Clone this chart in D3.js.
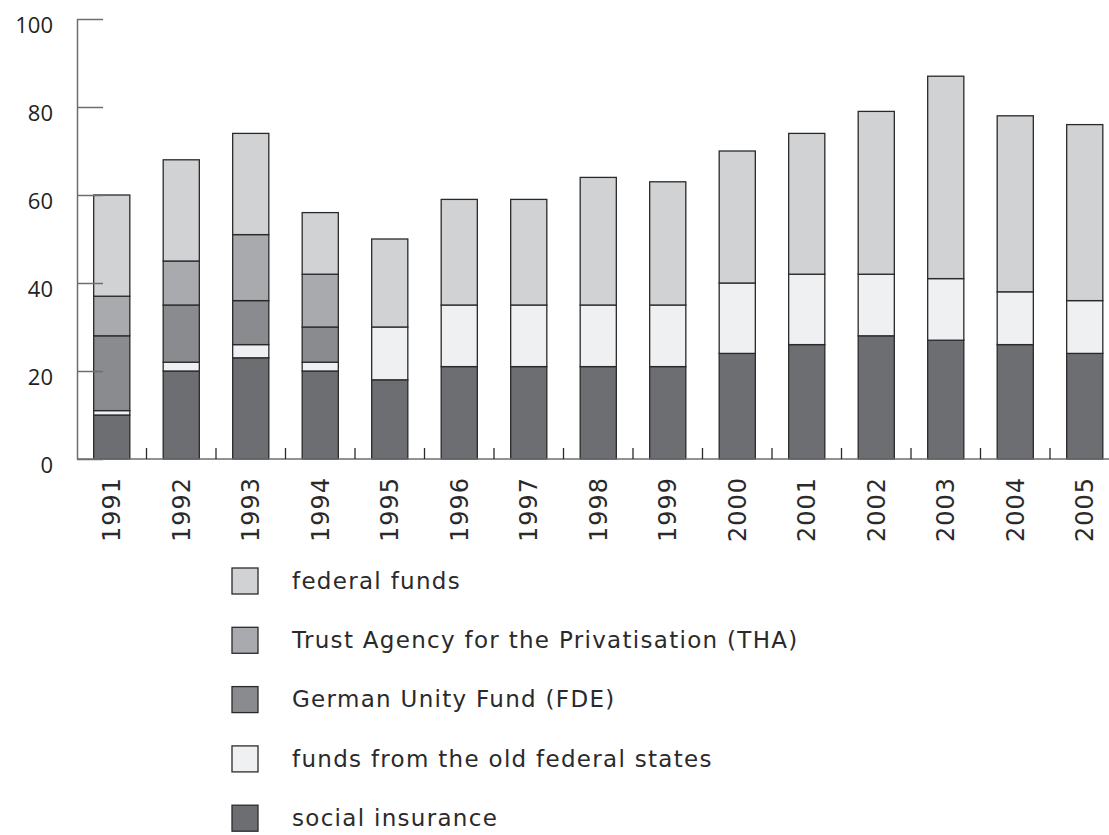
<!DOCTYPE html>
<html lang="en">
<head>
    <meta charset="UTF-8">
    <title>Financing of transfers</title>
    <script src="https://d3js.org/d3.v7.min.js"></script>
    <style>
        body { margin: 0; background: #fff; }
    </style>
</head>
<body>
<script>
// data (bn EUR)
const years = ["1991","1992","1993","1994","1995","1996","1997","1998","1999","2000","2001","2002","2003","2004","2005"];
const socialInsurance = [10, 20, 23, 20, 18, 21, 21, 21, 21, 24, 26, 28, 27, 26, 24];
const oldStates       = [1, 2, 3, 2, 12, 14, 14, 14, 14, 16, 16, 14, 14, 12, 12];
const unityFund       = [17, 13, 10, 8, 0, 0, 0, 0, 0, 0, 0, 0, 0, 0, 0];
const trustAgency     = [9, 10, 15, 12, 0, 0, 0, 0, 0, 0, 0, 0, 0, 0, 0];
const federalFunds    = [23, 23, 23, 14, 20, 24, 24, 29, 28, 30, 32, 37, 46, 40, 40];
const yTicks = [0, 20, 40, 60, 80, 100];

const seriesKeys = ["social", "old", "fde", "tha", "federal"];
const seriesNames = {
    federal: "federal funds",
    tha: "Trust Agency for the Privatisation (THA)",
    fde: "German Unity Fund (FDE)",
    old: "funds from the old federal states",
    social: "social insurance"
};
const colors = {
    federal: "#d1d2d4",
    tha: "#a9aaad",
    fde: "#8a8b8f",
    old: "#eff0f2",
    social: "#6d6e72"
};

const rows = years.map((y, i) => ({
    year: y,
    social: socialInsurance[i],
    old: oldStates[i],
    fde: unityFund[i],
    tha: trustAgency[i],
    federal: federalFunds[i]
}));

const width = 1109, height = 835;
const svg = d3.select("body").append("svg")
    .attr("width", width)
    .attr("height", height);

const x = d3.scaleBand()
    .domain(years)
    .range([77, 1119.5])
    .paddingInner(0.48)
    .paddingOuter(0.24);

const y = d3.scaleLinear()
    .domain([0, 100])
    .range([459, 19]);

const layers = d3.stack().keys(seriesKeys)(rows);

// bars
svg.append("g")
    .selectAll("g")
    .data(layers)
    .join("g")
    .attr("fill", d => colors[d.key])
    .selectAll("rect")
    .data(d => d.filter(s => s[1] - s[0] > 0))
    .join("rect")
    .attr("x", d => x(d.data.year))
    .attr("y", d => y(d[1]))
    .attr("width", x.bandwidth())
    .attr("height", d => y(d[0]) - y(d[1]))
    .attr("stroke", "#2b2a2b")
    .attr("stroke-width", 1.3);

// y axis, ticks point inward
const yAxis = svg.append("g")
    .attr("transform", "translate(77,0)")
    .call(d3.axisLeft(y).tickValues(yTicks).tickSizeInner(-26).tickSizeOuter(0).tickPadding(24));
yAxis.select(".domain").attr("stroke", "#6d6e71").attr("stroke-width", 1.5);
yAxis.selectAll(".tick line").attr("stroke", "#6d6e71").attr("stroke-width", 1.5);
yAxis.selectAll(".tick text")
    .attr("font-family", "'Open Sans', sans-serif")
    .attr("font-size", 22)
    .attr("fill", "#231f20")
    .attr("dy", "0.6em");

// x axis line
svg.append("line")
    .attr("x1", 77).attr("x2", width)
    .attr("y1", y(0)).attr("y2", y(0))
    .attr("stroke", "#6d6e71")
    .attr("stroke-width", 1.5);

// separator ticks between bars
const step = x.step();
const gap = (step - x.bandwidth()) / 2;
svg.append("g")
    .selectAll("line")
    .data(years.slice(0, -1))
    .join("line")
    .attr("x1", d => x(d) + x.bandwidth() + gap)
    .attr("x2", d => x(d) + x.bandwidth() + gap)
    .attr("y1", y(0))
    .attr("y2", y(0) - 11)
    .attr("stroke", "#2b2a2b")
    .attr("stroke-width", 1.3);

// year labels
svg.append("g")
    .selectAll("text")
    .data(years)
    .join("text")
    .attr("transform", d => `translate(${x(d) + x.bandwidth() / 2},477) rotate(-90)`)
    .attr("text-anchor", "end")
    .attr("dy", "0.36em")
    .attr("font-family", "'DejaVu Sans', sans-serif")
    .attr("font-size", 24)
    .attr("letter-spacing", 1)
    .attr("fill", "#2b2a2b")
    .text(d => d);

// legend
const legendKeys = ["federal", "tha", "fde", "old", "social"];
const legend = svg.append("g")
    .selectAll("g")
    .data(legendKeys)
    .join("g")
    .attr("transform", (d, i) => `translate(232,${581 + i * 59.3})`);

legend.append("rect")
    .attr("x", 0)
    .attr("y", -13)
    .attr("width", 26)
    .attr("height", 26)
    .attr("fill", d => colors[d])
    .attr("stroke", "#2b2a2b")
    .attr("stroke-width", 1.3);

legend.append("text")
    .attr("x", 60)
    .attr("dy", "0.34em")
    .attr("font-family", "'DejaVu Sans', sans-serif")
    .attr("font-size", 23)
    .attr("letter-spacing", 1.3)
    .attr("fill", "#2b2a2b")
    .text(d => seriesNames[d]);
</script>
</body>
</html>
